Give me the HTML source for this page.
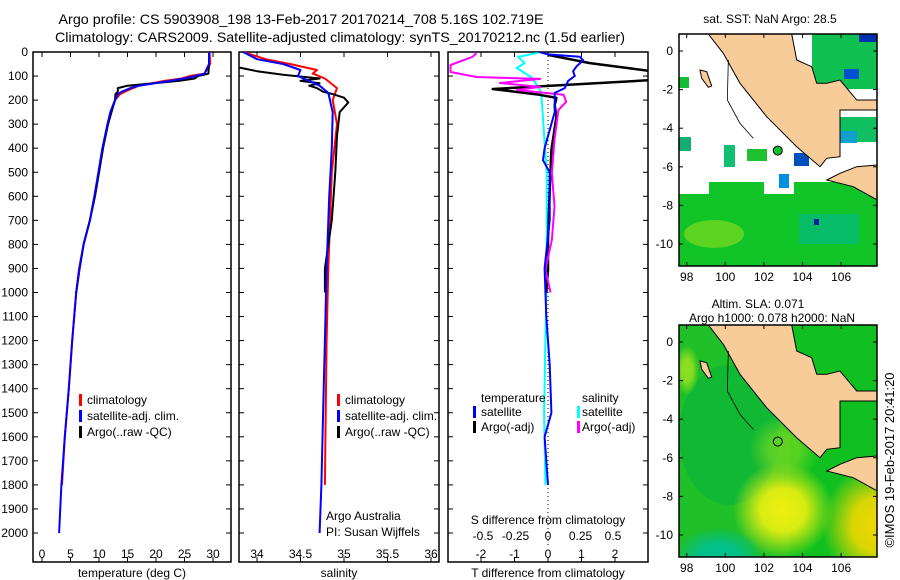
<!DOCTYPE html>
<html><head><meta charset="utf-8"><style>
html,body{margin:0;padding:0;background:#fff;}
svg{display:block;font-family:"Liberation Sans",sans-serif;}
text{fill:#000;}
</style></head><body>
<svg id="fig" width="900" height="580" viewBox="0 0 900 580" xmlns="http://www.w3.org/2000/svg">
<text x="301" y="24" text-anchor="middle" font-size="14" textLength="485" lengthAdjust="spacingAndGlyphs">Argo profile: CS 5903908_198 13-Feb-2017 20170214_708 5.16S 102.719E</text>
<text x="340" y="42" text-anchor="middle" font-size="14" textLength="570" lengthAdjust="spacingAndGlyphs">Climatology: CARS2009. Satellite-adjusted climatology: synTS_20170212.nc (1.5d earlier)</text>
<g id="p1"></g>
<g id="p2"></g>
<g id="p3"></g>
<g id="m1"></g>
<g id="m2"></g>
<text transform="translate(894,460) rotate(-90)" text-anchor="middle" font-size="13">©IMOS 19-Feb-2017 20:41:20</text>
</svg>
<script>
// ---- data ----
const depthTicks = [0,100,200,300,400,500,600,700,800,900,1000,1100,1200,1300,1400,1500,1600,1700,1800,1900,2000];
const tempTicks = [0,5,10,15,20,25,30];
const salTicks = [34,34.5,35,35.5,36];
const salTickLabels = ["34","34.5","35","35.5","36"];
const sdiffTicks = [-0.5,-0.25,0,0.25,0.5];
const sdiffLabels = ["-0.5","-0.25","0","0.25","0.5"];
const tdiffTicks = [-2,-1,0,1,2];

const tDepth = [0,50,90,100,110,120,140,150,165,175,200,250,300,400,500,600,700,800,900,1000,1200,1400,1600,1800,2000];
const tArgo = [29.3,29.3,29.2,27.4,26.8,24,15,13.3,13.3,12.9,12.8,12.2,11.6,10.7,10,9.3,8.4,7.3,6.6,6.0];
const tClim = [29.4,29.5,28.5,26,24.5,21.5,17,16,14.5,13.7,12.8,12,11.5,10.7,10,9.2,8.4,7.3,6.5,6.0,5.3,4.7,4.0,3.5];
const tSat  = [29.3,29.3,28.5,27,25,22.5,17,15.5,14,13.3,12.8,12,11.5,10.6,9.9,9.2,8.4,7.3,6.6,6.0,5.3,4.7,4.0,3.4,3.0];

const sArgoDepth = [65,80,95,110,120,130,140,150,165,175,190,210,250,350,500,700,900,1000];
const sArgo = [33.8,34.0,34.3,34.72,34.5,34.72,34.6,34.69,34.76,34.87,35.0,35.05,34.95,34.92,34.9,34.86,34.78,34.78];
const sClimDepth = [0,30,50,75,90,110,150,200,300,500,900,1200,1500,1800];
const sClim = [33.84,34.1,34.38,34.69,34.64,34.78,34.92,34.87,34.92,34.86,34.82,34.8,34.79,34.78];
const sSatDepth = [0,30,50,75,100,140,170,250,400,600,900,1200,1500,1800,2000];
const sSat = [33.84,34.0,34.3,34.5,34.47,34.72,34.82,34.87,34.86,34.83,34.8,34.78,34.76,34.74,34.72];

const dTArgoDepth = [12,46,67,82,95,116,154,178,191,221,270,407,573,780,905,1000];
const dTArgo = [0,1.25,2.4,3.2,3.2,3.2,-1.65,-0.25,0.25,0.2,0.25,0.1,0.05,0,0,-0.05];
const dTSatDepth = [0,10,20,35,60,80,100,120,150,170,200,250,400,450,500,700,900,1100,1300,1500,1600,1800];
const dTSat = [-0.25,0,0.95,1.05,0.85,0.75,0.8,0.6,0.5,0.2,0.2,0.2,-0.1,-0.15,0.05,0.05,-0.1,-0.05,0.05,0.1,-0.1,0];
const dSArgoDepth = [4,20,54,83,104,112,129,145,158,178,207,241,365,503,643,780,905,1000];
const dSArgo = [-0.55,-0.58,-0.75,-0.75,-0.55,-0.06,-0.37,-0.06,-0.24,0.12,0.14,0.08,0.05,0.03,0.05,0.03,-0.02,0.02];
const dSSatDepth = [4,20,46,67,104,158,186,503,905,1200,1500,1800];
const dSSat = [-0.08,-0.23,-0.18,-0.24,-0.13,-0.06,-0.05,-0.01,-0.01,-0.02,-0.03,-0.02];

const NS="http://www.w3.org/2000/svg";
function mk(tag, attrs, parent){const e=document.createElementNS(NS,tag);for(const k in attrs)e.setAttribute(k,attrs[k]);parent.appendChild(e);return e;}
const Y0=52, DY=0.2405, PB=562;
const yD = d => Y0 + d*DY;
const xT = t => 42 + t*5.7;
const xS = s => 257 + (s-34)*87;
const xDT = v => 548 + v*33.5;
const xDS = v => 548 + v*130;

function frame(g,x0,x1){
  const r=mk('rect',{x:x0,y:Y0,width:x1-x0,height:PB-Y0,fill:'none',stroke:'#000','stroke-width':1.5},g);
  
  
  depthTicks.forEach(d=>{
    mk('line',{x1:x0,x2:x0+5,y1:yD(d),y2:yD(d),stroke:'#000'},g);
    mk('line',{x1:x1-5,x2:x1,y1:yD(d),y2:yD(d),stroke:'#000'},g);
  });
}
function xticks(g,vals,fx,labels,ly){
  vals.forEach((v,i)=>{
    const x=fx(v);
    mk('line',{x1:x,x2:x,y1:Y0,y2:Y0+5,stroke:'#000'},g);
    mk('line',{x1:x,x2:x,y1:PB-5,y2:PB,stroke:'#000'},g);
    if(labels){const t=mk('text',{x:x,y:ly,'text-anchor':'middle','font-size':12},g);t.textContent=labels[i];
      
      }
  });
}
function line(g,ds,vs,fx,color,name,w){
  const n=Math.min(ds.length,vs.length);
  let p='';for(let i=0;i<n;i++)p+=(i?'L':'M')+fx(vs[i]).toFixed(1)+','+yD(ds[i]).toFixed(1);
  const e=mk('path',{d:p,fill:'none',stroke:color,'stroke-width':w||2,'stroke-linejoin':'round'},g);
  
  
}
function txt(g,x,y,s,name,anchor,size){const t=mk('text',{x:x,y:y,'font-size':size||12,'text-anchor':anchor||'start'},g);t.textContent=s;
  
  return t;}
function legbar(g,x,y,color){mk('rect',{x:x,y:y-10,width:3,height:12,fill:color},g);}

// Panel 1
const p1=document.getElementById('p1');
frame(p1,33,231);
depthTicks.forEach(d=>{txt(p1,28,yD(d)+4,String(d),'y-tick-label','end',12);});
xticks(p1,tempTicks,xT,tempTicks.map(String),558);
txt(p1,132,577,'temperature (deg C)','x-axis-title','middle',12);
line(p1,tDepth,tClim,xT,'#f00','climatology-temperature-line');
line(p1,tDepth,tArgo,xT,'#000','argo-temperature-line');
line(p1,tDepth,tSat,xT,'#00f','satellite-temperature-line');
legbar(p1,79,404,'#f00');txt(p1,87,404,'climatology','legend-climatology');
legbar(p1,79,420,'#00f');txt(p1,87,420,'satellite-adj. clim.','legend-satellite');
legbar(p1,79,436,'#000');txt(p1,87,436,'Argo(..raw -QC)','legend-argo');

// Panel 2
const p2=document.getElementById('p2');
frame(p2,239,439);
xticks(p2,salTicks,xS,salTickLabels,558);
txt(p2,339,577,'salinity','x-axis-title','middle',12);
line(p2,sClimDepth,sClim,xS,'#f00','climatology-salinity-line');
line(p2,sArgoDepth,sArgo,xS,'#000','argo-salinity-line');
line(p2,sSatDepth,sSat,xS,'#00f','satellite-salinity-line');
legbar(p2,337,404,'#f00');txt(p2,345,404,'climatology','legend-climatology');
legbar(p2,337,420,'#00f');txt(p2,345,420,'satellite-adj. clim.','legend-satellite');
legbar(p2,337,436,'#000');txt(p2,345,436,'Argo(..raw -QC)','legend-argo');
txt(p2,326,520,'Argo Australia','credit-argo-australia');
txt(p2,326,536,'PI: Susan Wijffels','credit-pi');

// Panel 3
const p3=document.getElementById('p3');
const cp=mk('clipPath',{id:'c3'},p3);mk('rect',{x:448,y:Y0,width:200,height:PB-Y0},cp);
frame(p3,448,648);
xticks(p3,tdiffTicks,xDT,tdiffTicks.map(String),558);
sdiffTicks.forEach((v,i)=>txt(p3,xDS(v),540,sdiffLabels[i],'s-tick-label','middle',12));
txt(p3,548,524,'S difference from climatology','s-axis-title','middle',12);
txt(p3,548,577,'T difference from climatology','x-axis-title','middle',12);
mk('line',{x1:548,x2:548,y1:Y0,y2:548,stroke:'#000','stroke-dasharray':'1,3'},p3);
const g3=mk('g',{'clip-path':'url(#c3)'},p3);
line(g3,dSSatDepth,dSSat,xDS,'#0ff','salinity-satellite-diff-line');
line(g3,dTArgoDepth,dTArgo,xDT,'#000','temperature-argo-diff-line',2.5);
line(g3,dSArgoDepth,dSArgo,xDS,'#f0f','salinity-argo-diff-line');
line(g3,dTSatDepth,dTSat,xDT,'#00f','temperature-satellite-diff-line');
txt(p3,481,402,'temperature','legend-temperature-header');
txt(p3,582,402,'salinity','legend-salinity-header');
legbar(p3,473,416,'#00f');txt(p3,481,416,'satellite','legend-t-satellite');
legbar(p3,473,431,'#000');txt(p3,481,431,'Argo(-adj)','legend-t-argo');
legbar(p3,577,416,'#0ff');txt(p3,582,416,'satellite','legend-s-satellite');
legbar(p3,577,431,'#f0f');txt(p3,582,431,'Argo(-adj)','legend-s-argo');

// Maps
const lonTicks=[98,100,102,104,106];
const latTicks=[0,-2,-4,-6,-8,-10];
const sumatra=[[205,102],[250,160],[300,250],[380,350],[470,440],[540,500],[560,475],[600,470],[600,330],[640,330],[712,330],[712,300],[650,300],[600,240],[560,250],[530,250],[515,200],[470,180],[455,102]];
const java=[[560,540],[600,520],[650,500],[712,495],[712,600],[640,560],[600,550]];
const island=[[180,210],[200,215],[215,258],[205,262],[185,235]];
function map(id,top,lat0y,kind){
  const g=document.getElementById(id);
  const X0=679,X1=877,B=top+232;
  const px=zx=>640+zx/3, py=zy=>top+(zy-102)/3;
  const clip=mk('clipPath',{id:'cl'+id},g);mk('rect',{x:X0,y:top,width:X1-X0,height:B-top},clip);
  const gg=mk('g',{'clip-path':'url(#cl'+id+')'},g);
  if(kind==='sst'){
    mk('rect',{x:X0,y:top,width:198,height:232,fill:'#fff'},gg);
    mk('rect',{x:X0,y:top+148,width:198,height:84,fill:'#10c428'},gg);
    mk('rect',{x:X0,y:top+148,width:30,height:12,fill:'#fff'},gg);
    mk('rect',{x:X0+85,y:top+148,width:30,height:12,fill:'#fff'},gg);
    mk('ellipse',{cx:X0+35,cy:top+200,rx:30,ry:14,fill:'#70d820',opacity:0.8},gg);
    mk('rect',{x:X0+120,y:top+180,width:60,height:30,fill:'#00b890',opacity:0.6},gg);
    mk('rect',{x:X0+135,y:top+185,width:5,height:6,fill:'#0020a0'},gg);
    mk('rect',{x:X0+100,y:top+140,width:10,height:14,fill:'#0090e0'},gg);
    mk('rect',{x:X0+133,y:top,width:65,height:55,fill:'#10c050'},gg);
    mk('rect',{x:X0+180,y:top,width:18,height:8,fill:'#0030b0'},gg);
    mk('rect',{x:X0+165,y:top+35,width:15,height:10,fill:'#0050d0'},gg);
    mk('rect',{x:X0+160,y:top+83,width:38,height:25,fill:'#10c060'},gg);
    mk('rect',{x:X0+160,y:top+97,width:18,height:12,fill:'#10a0d0'},gg);
    mk('rect',{x:X0+45,y:top+111,width:11,height:22,fill:'#10c070'},gg);
    mk('rect',{x:X0+68,y:top+115,width:20,height:12,fill:'#20c030'},gg);
    mk('rect',{x:X0+115,y:top+119,width:15,height:13,fill:'#0050c0'},gg);
    mk('rect',{x:X0,y:top+103,width:12,height:14,fill:'#10b070'},gg);
    mk('rect',{x:X0,y:top+43,width:10,height:11,fill:'#10c030'},gg);
  } else {
    const defs=mk('defs',{},g);
    const rg=(idn,c)=>{const r=mk('radialGradient',{id:idn},defs);mk('stop',{offset:'0','stop-color':c,'stop-opacity':1},r);mk('stop',{offset:'0.45','stop-color':c,'stop-opacity':0.9},r);mk('stop',{offset:'1','stop-color':c,'stop-opacity':0},r);};
    rg('yb1','#eef010');rg('yb2','#f0d800');rg('tb','#00c090');rg('gb','#90e020');
    mk('rect',{x:X0,y:top,width:198,height:232,fill:'#10c020'},gg);
    mk('rect',{x:X0,y:top,width:110,height:232,fill:'#30c030',opacity:0.5},gg);
    mk('ellipse',{cx:X0+50,cy:top+110,rx:50,ry:70,fill:'#00b040',opacity:0.5},gg);
    mk('ellipse',{cx:X0+104,cy:top+185,rx:50,ry:48,fill:'url(#yb1)'},gg);
    mk('ellipse',{cx:X0+198,cy:top+200,rx:55,ry:60,fill:'url(#yb2)'},gg);
    mk('ellipse',{cx:X0+40,cy:top+232,rx:45,ry:30,fill:'url(#tb)'},gg);
    mk('ellipse',{cx:X0+105,cy:top+125,rx:35,ry:35,fill:'url(#gb)',opacity:0.6},gg);
    mk('ellipse',{cx:X0+8,cy:top+45,rx:12,ry:25,fill:'url(#gb)'},gg);
  }
  const poly=(pts,name)=>{const e=mk('polygon',{points:pts.map(p=>px(p[0]).toFixed(1)+','+py(p[1]).toFixed(1)).join(' '),fill:'#f8cc98',stroke:'#000','stroke-width':1},gg);
    
    };
  poly(sumatra,'sumatra-land');poly(java,'java-land');poly(island,'island-land');
  mk('polyline',{points:[[265,180],[262,300],[300,370],[340,415]].map(p=>px(p[0])+','+py(p[1])).join(' '),fill:'none',stroke:'#000','stroke-width':0.8},gg);
  const cx=679+(102.719-97.6)*19.3, cy=lat0y+5.16*19.3;
  const c=mk('circle',{cx:cx,cy:cy,r:4.5,fill:kind==='sst'?'#10c030':'none',stroke:'#000','stroke-width':1},gg);
  
  
  mk('rect',{x:X0,y:top,width:198,height:232,fill:'none',stroke:'#000','stroke-width':1.5},g);
  lonTicks.forEach(l=>{const x=679+(l-97.6)*19.3;mk('line',{x1:x,x2:x,y1:B,y2:B-4,stroke:'#000'},g);mk('line',{x1:x,x2:x,y1:top,y2:top+4,stroke:'#000'},g);
    txt(g,x,B+15,String(l),'lon-tick-label','middle',12);});
  latTicks.forEach(l=>{const y=lat0y-l*19.3;mk('line',{x1:X0,x2:X0+4,y1:y,y2:y,stroke:'#000'},g);mk('line',{x1:X1-4,x2:X1,y1:y,y2:y,stroke:'#000'},g);
    txt(g,673,y+4,String(l),'lat-tick-label','end',12);});
}
map('m1',34,51,'sst');
map('m2',325,342,'sla');
txt(document.getElementById('m1'),770,23,'sat. SST: NaN Argo: 28.5','sst-map-title','middle',12);
txt(document.getElementById('m2'),758,308,'Altim. SLA: 0.071','sla-map-title','middle',12);
txt(document.getElementById('m2'),772,322,'Argo h1000: 0.078 h2000: NaN','sla-map-subtitle','middle',12);
</script>
</body></html>
